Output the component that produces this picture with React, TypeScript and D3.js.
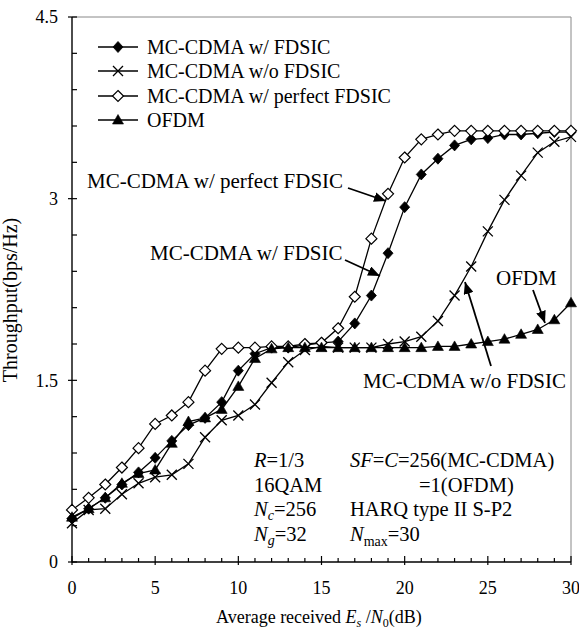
import React from "react";
import * as d3 from "d3";

// Es/N0 (dB)
const snr = [0, 1, 2, 3, 4, 5, 6, 7, 8, 9, 10, 11, 12, 13, 14, 15, 16, 17, 18, 19, 20, 21, 22, 23, 24, 25, 26, 27, 28, 29, 30];

// throughput (bps/Hz)
const withFdsic = [0.36, 0.44, 0.53, 0.64, 0.74, 0.86, 1.0, 1.13, 1.19, 1.32, 1.58, 1.72, 1.77, 1.77, 1.79, 1.81, 1.82, 1.97, 2.2, 2.55, 2.93, 3.2, 3.33, 3.44, 3.49, 3.5, 3.53, 3.53, 3.54, 3.55, 3.55];
const withoutFdsic = [0.32, 0.43, 0.44, 0.56, 0.65, 0.7, 0.72, 0.81, 1.03, 1.17, 1.21, 1.3, 1.48, 1.65, 1.75, 1.78, 1.77, 1.77, 1.77, 1.8, 1.82, 1.86, 1.99, 2.2, 2.44, 2.73, 2.99, 3.19, 3.38, 3.47, 3.51];
const perfectFdsic = [0.43, 0.53, 0.64, 0.78, 0.94, 1.14, 1.21, 1.32, 1.58, 1.76, 1.77, 1.77, 1.78, 1.78, 1.8, 1.81, 1.93, 2.19, 2.67, 3.04, 3.34, 3.49, 3.53, 3.56, 3.56, 3.56, 3.56, 3.56, 3.56, 3.56, 3.56];
const ofdm = [0.37, 0.44, 0.53, 0.65, 0.73, 0.76, 0.98, 1.16, 1.19, 1.26, 1.45, 1.68, 1.76, 1.77, 1.77, 1.77, 1.77, 1.77, 1.77, 1.77, 1.77, 1.77, 1.78, 1.78, 1.8, 1.82, 1.84, 1.88, 1.92, 2.0, 2.14];

const seriesNames = ["MC-CDMA w/ FDSIC", "MC-CDMA w/o FDSIC", "MC-CDMA w/ perfect FDSIC", "OFDM"];
const seriesMarkers = ["diamondFilled", "cross", "diamondOpen", "triangle"];
const seriesValues = [withFdsic, withoutFdsic, perfectFdsic, ofdm];

const xTickLabels = [0, 5, 10, 15, 20, 25, 30];
const yTickLabels = [0, 1.5, 3, 4.5];

const FONT = "Liberation Serif, DejaVu Serif, serif";

function Marker({ kind, x, y }: { kind: string; x: number; y: number }) {
    if (kind === "diamondFilled") {
        return <path d={`M${x},${y - 5.5}L${x + 5},${y}L${x},${y + 5.5}L${x - 5},${y}Z`} fill="#000" stroke="#000" strokeWidth={0.8} />;
    }
    if (kind === "diamondOpen") {
        return <path d={`M${x},${y - 5.5}L${x + 5.5},${y}L${x},${y + 5.5}L${x - 5.5},${y}Z`} fill="#fff" stroke="#000" strokeWidth={1.2} />;
    }
    if (kind === "triangle") {
        return <path d={`M${x},${y - 5.5}L${x + 5.5},${y + 4}L${x - 5.5},${y + 4}Z`} fill="#000" stroke="#000" strokeWidth={0.6} />;
    }
    return (
        <path d={`M${x - 5},${y - 5}L${x + 5},${y + 5}M${x - 5},${y + 5}L${x + 5},${y - 5}`} stroke="#000" strokeWidth={1.3} fill="none" />
    );
}

export default function App() {
    const left = 72, right = 571, top = 17, bottom = 562;
    const x = d3.scaleLinear().domain([0, 30]).range([left, right]);
    const y = d3.scaleLinear().domain([0, 4.5]).range([bottom, top]);

    const line = d3.line<number>()
        .x((d, i) => x(snr[i]))
        .y(d => y(d));

    const yMinor = d3.range(0, 4.5001, 0.3);
    const xMinor = d3.range(0, 30.001, 1);

    const legendRows = [47, 71, 96, 120];

    return (
        <svg width={579} height={633} style={{ position: "absolute", left: 0, top: 0, background: "#fff", fontFamily: FONT }}>
            <defs>
                <marker id="arrow" viewBox="0 0 12 10" refX={12} refY={5} markerWidth={12} markerHeight={10} markerUnits="userSpaceOnUse" orient="auto">
                    <path d="M0,0L12,5L0,10Z" fill="#000" />
                </marker>
            </defs>

            {/* frame */}
            <line x1={left} x2={right} y1={top} y2={top} stroke="#888" strokeWidth={1} />
            <line x1={right} x2={right} y1={top} y2={bottom} stroke="#888" strokeWidth={1} />
            <line x1={left} x2={left} y1={top} y2={bottom + 0.5} stroke="#000" strokeWidth={1.4} />
            <line x1={left} x2={right} y1={bottom} y2={bottom} stroke="#000" strokeWidth={1.4} />

            {/* y ticks */}
            {yMinor.map((v, i) => {
                const major = i % 5 === 0;
                return <line key={"yt" + i} x1={major ? left - 4 : left} x2={left + 5} y1={y(v)} y2={y(v)} stroke="#000" strokeWidth={1.2} />;
            })}
            {yTickLabels.map(v => (
                <text key={"yl" + v} x={58} y={y(v)} dy="0.35em" textAnchor="end" fontSize={18}>{v}</text>
            ))}

            {/* x ticks */}
            {xMinor.map((v, i) => {
                const major = i % 5 === 0;
                return <line key={"xt" + i} x1={x(v)} x2={x(v)} y1={major ? bottom + 3 : bottom} y2={major ? bottom - 6 : bottom - 4} stroke="#000" strokeWidth={1.2} />;
            })}
            {xTickLabels.map(v => (
                <text key={"xl" + v} x={x(v)} y={594} textAnchor="middle" fontSize={18}>{v}</text>
            ))}

            {/* axis titles */}
            <text transform="translate(17,300) rotate(-90)" textAnchor="middle" fontSize={20}>Throughput(bps/Hz)</text>
            <text x={216} y={623} fontSize={18}>
                Average received <tspan fontStyle="italic">E</tspan>
                <tspan fontStyle="italic" fontSize={12} dy={4}>s</tspan>
                <tspan dy={-4}> /</tspan>
                <tspan fontStyle="italic">N</tspan>
                <tspan fontSize={12} dy={4}>0</tspan>
                <tspan dy={-4}>(dB)</tspan>
            </text>

            {/* series */}
            {seriesValues.map((vals, s) => (
                <g key={"s" + s}>
                    <path d={line(vals) || ""} fill="none" stroke="#000" strokeWidth={1.3} />
                    {vals.map((v, i) => (
                        <Marker key={i} kind={seriesMarkers[s]} x={x(snr[i])} y={y(v)} />
                    ))}
                </g>
            ))}

            {/* legend */}
            {seriesNames.map((name, i) => (
                <g key={"lg" + i}>
                    <line x1={98} x2={138} y1={legendRows[i]} y2={legendRows[i]} stroke="#000" strokeWidth={1.3} />
                    <Marker kind={seriesMarkers[i]} x={118} y={legendRows[i]} />
                    <text x={147} y={legendRows[i]} dy="0.35em" fontSize={20}>{name}</text>
                </g>
            ))}

            {/* annotations */}
            <text x={87} y={188} fontSize={21}>MC-CDMA w/ perfect FDSIC</text>
            <line x1={348} y1={188} x2={386} y2={201} stroke="#000" strokeWidth={1.8} markerEnd="url(#arrow)" />
            <text x={150} y={260} fontSize={21}>MC-CDMA w/ FDSIC</text>
            <line x1={345} y1={260} x2={380} y2={276} stroke="#000" strokeWidth={1.8} markerEnd="url(#arrow)" />
            <text x={496} y={285} fontSize={21}>OFDM</text>
            <line x1={533} y1={290} x2={545} y2={323} stroke="#000" strokeWidth={1.8} markerEnd="url(#arrow)" />
            <text x={363} y={388} fontSize={21}>MC-CDMA w/o FDSIC</text>
            <line x1={491} y1={366} x2={465} y2={282} stroke="#000" strokeWidth={1.8} markerEnd="url(#arrow)" />

            {/* parameters */}
            <g fontSize={20.5}>
                <text x={254} y={467}><tspan fontStyle="italic">R</tspan>=1/3</text>
                <text x={350} y={467}><tspan fontStyle="italic">SF</tspan>=<tspan fontStyle="italic">C</tspan>=256(MC-CDMA)</text>
                <text x={254} y={492}>16QAM</text>
                <text x={419} y={492}>=1(OFDM)</text>
                <text x={254} y={516}>
                    <tspan fontStyle="italic">N</tspan><tspan fontStyle="italic" fontSize={14} dy={4}>c</tspan><tspan dy={-4}>=256</tspan>
                </text>
                <text x={350} y={516}>HARQ type II S-P2</text>
                <text x={254} y={541}>
                    <tspan fontStyle="italic">N</tspan><tspan fontStyle="italic" fontSize={14} dy={4}>g</tspan><tspan dy={-4}>=32</tspan>
                </text>
                <text x={350} y={541}>
                    <tspan fontStyle="italic">N</tspan><tspan fontSize={14} dy={5}>max</tspan><tspan dy={-5}>=30</tspan>
                </text>
            </g>
        </svg>
    );
}
